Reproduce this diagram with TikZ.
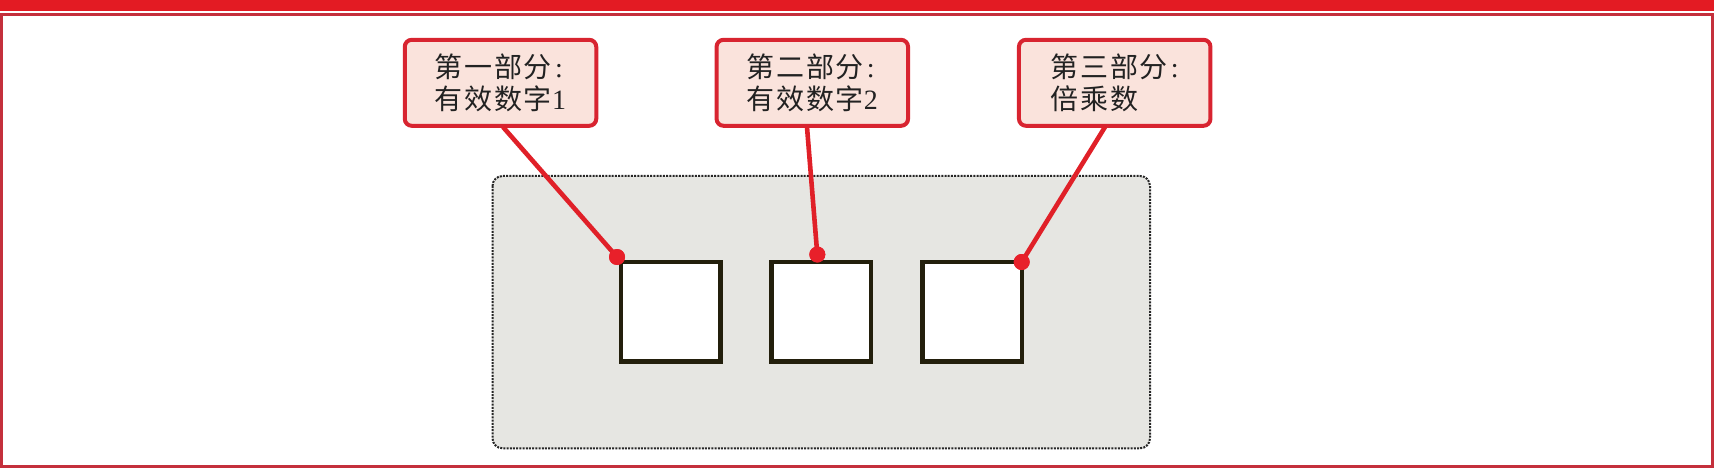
\documentclass[tikz,border=0pt]{standalone}
\usepackage{fontspec}
\setmainfont{Liberation Serif}
\newfontfamily\cjk[LetterSpace=6]{Noto Sans CJK SC}
\definecolor{topred}{HTML}{E31B23}
\definecolor{framered}{HTML}{C4303C}
\definecolor{boxfill}{HTML}{FAE3DC}
\definecolor{boxdraw}{HTML}{D82430}
\definecolor{linered}{HTML}{E02028}
\definecolor{dotred}{HTML}{E8202A}
\definecolor{panelfill}{HTML}{E6E6E2}
\definecolor{sqdraw}{HTML}{231F0C}
\definecolor{txt}{HTML}{222222}
\newcommand{\colonsep}{\kern3pt:}
\tikzset{
  callout/.style={draw=boxdraw, fill=boxfill, line width=4pt, rounded corners=7pt,
    minimum width=191.5pt, minimum height=86pt, inner sep=0pt, align=left,
    text=txt, font=\fontsize{28}{31.5}\selectfont},
  cell/.style={draw=sqdraw, fill=white, line width=4.5pt, minimum size=99.5pt, inner sep=0pt},
  dotmark/.style={circle, fill=dotred, minimum size=16pt, inner sep=0pt},
  leader/.style={draw=linered, line width=4.6pt},
}
\begin{document}
\begin{tikzpicture}[x=1pt,y=-1pt]
\useasboundingbox (0,0) rectangle (1714,468);
% top band and frame
\fill[topred] (0,0) rectangle (1714,11.5);
\draw[framered, line width=3pt] (1.5,15) rectangle (1712.5,466.5);
% grey panel
\draw[fill=panelfill, draw=black!85, line width=2pt, dash pattern=on 2pt off 1.2pt, rounded corners=10pt]
  (492.5,176) rectangle (1150,448.3);
% cells
\node[cell] (s1) at (670.5,311.7) {};
\node[cell] (s2) at (821,311.7) {};
\node[cell] (s3) at (972,311.7) {};
% callouts
\node[callout] (b1) at (500.5,82.8) {{\cjk 第一部分}\colonsep\\{\cjk 有效数字}1};
\node[callout] (b2) at (812.3,82.8) {{\cjk 第二部分}\colonsep\\{\cjk 有效数字}2};
\node[callout] (b3) at (1114.7,82.8) {{\cjk 第三部分}\colonsep\\{\cjk 倍乘数}};
% anchor points
\coordinate (a1) at (503,127);
\coordinate (a2) at (807,127);
\coordinate (a3) at (1105,127);
\node[dotmark] (d1) at (617,257) {};
\node[dotmark] (d2) at (817.3,254.5) {};
\node[dotmark] (d3) at (1021.7,262) {};
% leaders
\draw[leader] (a1) -- (d1.center);
\draw[leader] (a2) -- (d2.center);
\draw[leader] (a3) -- (d3.center);
\node[dotmark] at (d1) {};
\node[dotmark] at (d2) {};
\node[dotmark] at (d3) {};
\end{tikzpicture}
\end{document}
